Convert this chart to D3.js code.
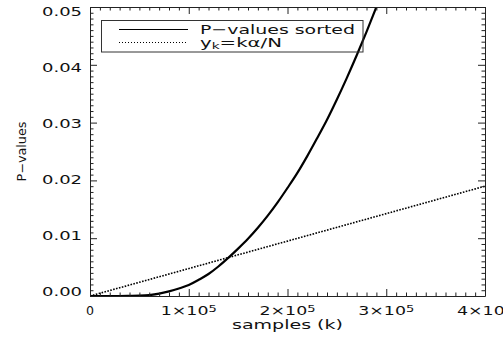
<!DOCTYPE html>
<html>
<head>
<meta charset="utf-8">
<script src="https://cdn.jsdelivr.net/npm/d3@7"></script>
<style>
  body { margin: 0; background: #fff; }
  svg { display: block; }
  text { font-family: 'DejaVu Sans', sans-serif; fill: #111; }
</style>
</head>
<body>
<svg width="503" height="337"></svg>
<script>
// sorted p-values (k in samples)
var kSamples = [0, 30000, 40000, 50000, 60000, 70000, 80000, 90000, 100000, 110000,
  120000, 130000, 140000, 150000, 160000, 170000, 180000, 190000, 200000, 210000,
  220000, 230000, 240000, 250000, 260000, 270000, 280000, 290000, 295000]
var pSorted = [0, 0, 0.00002, 0.00005, 0.00015, 0.0004, 0.0008, 0.0013, 0.0019, 0.0028,
  0.0038, 0.0051, 0.0066, 0.0082, 0.0099, 0.0118, 0.0139, 0.0162, 0.0187, 0.0213,
  0.0242, 0.0273, 0.0305, 0.0340, 0.0377, 0.0416, 0.0457, 0.0500, 0.0521]

// threshold line y_k = k*alpha/N
var lineK = [0, 400000]
var lineY = [0, 0.019]

var xTicks = [0, 100000, 200000, 300000, 400000]
var xTickMantissa = ['0', '1×10', '2×10', '3×10', '4×10']
var xTickExp = ['', '5', '5', '5', '5']
var yTicks = [0, 0.01, 0.02, 0.03, 0.04, 0.05]
var yTickLabels = ['0.00', '0.01', '0.02', '0.03', '0.04', '0.05']

var legendLabels = ['P\u2212values sorted', 'y', 'k', '=k\u03b1/N']

var svg = d3.select('svg')
var pLeft = 90, pRight = 485, pTop = 7, pBottom = 296

var x = d3.scaleLinear().domain([0, 400000]).range([pLeft, pRight])
var y = d3.scaleLinear().domain([0, 0.05]).range([pBottom, pTop])
// IDL puts its y labels on a slightly tighter spacing than the ticks
var yLab = d3.scaleLinear().domain([0, 0.05]).range([291, 11])

svg.append('rect').attr('width', 503).attr('height', 337).attr('fill', '#fff')

svg.append('clipPath').attr('id', 'plot')
  .append('rect')
  .attr('x', pLeft).attr('y', pTop)
  .attr('width', pRight - pLeft).attr('height', pBottom - pTop)

// data
var plot = svg.append('g').attr('clip-path', 'url(#plot)')

plot.append('path')
  .datum(lineK.map((k, i) => [k, lineY[i]]))
  .attr('fill', 'none')
  .attr('stroke', '#000')
  .attr('stroke-width', 1.6)
  .attr('stroke-dasharray', '1.6,1.4')
  .attr('d', d3.line().x((d) => x(d[0])).y((d) => y(d[1])))

plot.append('path')
  .datum(kSamples.map((k, i) => [k, pSorted[i]]))
  .attr('fill', 'none')
  .attr('stroke', '#000')
  .attr('stroke-width', 2.2)
  .attr('d', d3.line().curve(d3.curveMonotoneX).x((d) => x(d[0])).y((d) => y(d[1])))

// frame with ticks on all four sides
var minorX = d3.range(0, 400001, 10000)
var minorY = d3.range(0, 0.05001, 0.001)
var isMajorX = (v) => Math.abs(v / 100000 - Math.round(v / 100000)) < 1e-6
var isMajorY = (v) => Math.abs(v / 0.01 - Math.round(v / 0.01)) < 1e-6

var axes = svg.append('g').attr('fill', 'none')

axes.append('g').attr('transform', `translate(0,${pBottom})`)
  .call(d3.axisBottom(x).tickValues(minorX).tickSizeInner(0).tickSizeOuter(0).tickFormat(''))
  .call((g) => g.selectAll('.tick line').attr('y2', (d) => isMajorX(d) ? -7 : -3.5))
axes.append('g').attr('transform', `translate(0,${pTop})`)
  .call(d3.axisTop(x).tickValues(minorX).tickSizeInner(0).tickSizeOuter(0).tickFormat(''))
  .call((g) => g.selectAll('.tick line').attr('y2', (d) => isMajorX(d) ? 7 : 3.5))
axes.append('g').attr('transform', `translate(${pLeft},0)`)
  .call(d3.axisLeft(y).tickValues(minorY).tickSizeInner(0).tickSizeOuter(0).tickFormat(''))
  .call((g) => g.selectAll('.tick line').attr('x2', (d) => isMajorY(d) ? 7 : 3.5))
axes.append('g').attr('transform', `translate(${pRight},0)`)
  .call(d3.axisRight(y).tickValues(minorY).tickSizeInner(0).tickSizeOuter(0).tickFormat(''))
  .call((g) => g.selectAll('.tick line').attr('x2', (d) => isMajorY(d) ? -7 : -3.5))
axes.selectAll('.domain').attr('stroke', '#222').attr('stroke-width', 1)
axes.selectAll('.tick line').attr('stroke', '#222').attr('stroke-width', 1)

// tick labels
svg.append('g').selectAll('text')
  .data(yTicks)
  .enter()
  .append('text')
  .attr('x', 82)
  .attr('y', (d) => yLab(d) + 4.5)
  .attr('text-anchor', 'end')
  .attr('font-size', 12)
  .attr('textLength', 40)
  .attr('lengthAdjust', 'spacingAndGlyphs')
  .text((d, i) => yTickLabels[i])

var xl = svg.append('g').selectAll('text')
  .data(xTicks)
  .enter()
  .append('text')
  .attr('x', (d) => x(d))
  .attr('y', 315)
  .attr('text-anchor', 'middle')
  .attr('font-size', 12)
  .attr('textLength', (d, i) => i === 0 ? 8 : 56)
  .attr('lengthAdjust', 'spacingAndGlyphs')
xl.append('tspan').text((d, i) => xTickMantissa[i])
xl.append('tspan')
  .attr('font-size', 9)
  .attr('dy', -3)
  .text((d, i) => xTickExp[i])

svg.append('text')
  .attr('x', (pLeft + pRight) / 2)
  .attr('y', 329)
  .attr('text-anchor', 'middle')
  .attr('font-size', 12.5)
  .attr('textLength', 111)
  .attr('lengthAdjust', 'spacingAndGlyphs')
  .text('samples (k)')

svg.append('text')
  .attr('transform', `translate(26,${(pTop + pBottom) / 2}) rotate(-90)`)
  .attr('text-anchor', 'middle')
  .attr('font-size', 12)
  .attr('textLength', 60)
  .attr('lengthAdjust', 'spacingAndGlyphs')
  .text('P\u2212values')

// legend
var legend = svg.append('g')
legend.append('rect')
  .attr('x', 101.5).attr('y', 20.5)
  .attr('width', 261.5).attr('height', 31.5)
  .attr('fill', 'none')
  .attr('stroke', '#333')
  .attr('stroke-width', 1)

legend.append('line')
  .attr('x1', 119).attr('x2', 188).attr('y1', 29.5).attr('y2', 29.5)
  .attr('stroke', '#000').attr('stroke-width', 1.2)
legend.append('line')
  .attr('x1', 119).attr('x2', 188).attr('y1', 42.5).attr('y2', 42.5)
  .attr('stroke', '#000').attr('stroke-width', 1)
  .attr('stroke-dasharray', '1,2')

legend.append('text')
  .attr('x', 200).attr('y', 33.5)
  .attr('font-size', 13)
  .attr('textLength', 155)
  .attr('lengthAdjust', 'spacingAndGlyphs')
  .text(legendLabels[0])

var t2 = legend.append('text')
  .attr('x', 200).attr('y', 47)
  .attr('font-size', 13)
  .attr('textLength', 82)
  .attr('lengthAdjust', 'spacingAndGlyphs')
t2.append('tspan').text(legendLabels[1])
t2.append('tspan').attr('font-size', 9).attr('dy', 2).text(legendLabels[2])
t2.append('tspan').attr('dy', -2).text(legendLabels[3])
</script>
</body>
</html>
